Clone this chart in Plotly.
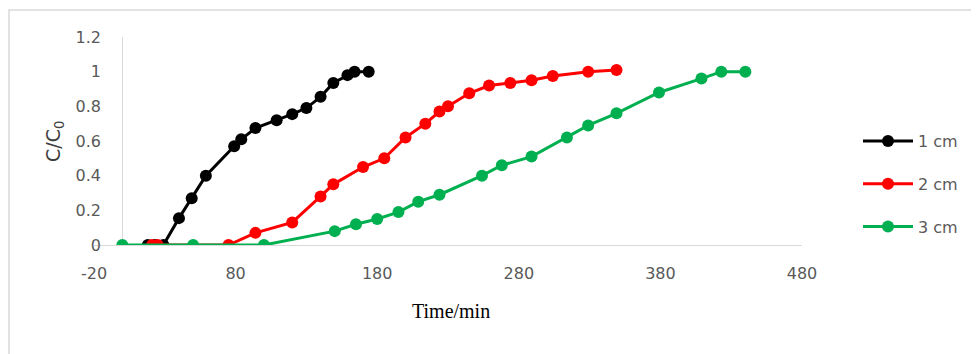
import plotly.graph_objects as go

# ---- data ----
t_1cm = [18, 23, 29, 40, 49, 59, 79, 84, 94, 109, 120, 130, 140, 149, 159, 164, 174]
c_1cm = [0, 0, 0, 0.155, 0.27, 0.40, 0.57, 0.61, 0.675, 0.72, 0.755, 0.79, 0.855, 0.935, 0.98, 1.0, 1.0]

t_2cm = [21, 25, 75, 94, 120, 140, 149, 170, 185, 200, 214, 224, 230, 245, 259, 274, 289, 304, 329, 349]
c_2cm = [0, 0, 0, 0.07, 0.13, 0.28, 0.35, 0.45, 0.50, 0.62, 0.70, 0.77, 0.80, 0.875, 0.92, 0.935, 0.95, 0.975, 1.0, 1.01]

t_3cm = [0, 50, 100, 150, 165, 180, 195, 209, 224, 254, 268, 289, 314, 329, 349, 379, 409, 423, 440]
c_3cm = [0, 0, 0, 0.08, 0.12, 0.15, 0.19, 0.25, 0.29, 0.40, 0.46, 0.51, 0.62, 0.69, 0.76, 0.88, 0.96, 1.0, 1.0]

series_names = ["1 cm", "2 cm", "3 cm"]
series_colors = ["#000000", "#FF0000", "#00B050"]

x_ticks = [-20, 80, 180, 280, 380, 480]
y_ticks = [0, 0.2, 0.4, 0.6, 0.8, 1.0, 1.2]
y_tick_labels = ["0", "0.2", "0.4", "0.6", "0.8", "1", "1.2"]

fig = go.Figure()
for name, xs, ys, col in zip(series_names, [t_1cm, t_2cm, t_3cm], [c_1cm, c_2cm, c_3cm], series_colors):
    fig.add_trace(go.Scatter(
        x=xs, y=ys, name=name, mode="lines+markers",
        line=dict(color=col, width=3),
        marker=dict(color=col, size=12),
        legendgroup=name,
    ))

# page offset (body margin) and plot area pixel geometry, in page coordinates
OFF = 8
W, H = 979 - OFF, 354 - OFF
L, R, T, B = 94 - OFF, 802 - OFF, 37 - OFF, 245 - OFF
pw, ph = R - L, B - T


def px(xp):
    return (xp - OFF - L) / pw


def py(yp):
    return (B - (yp - OFF)) / ph


tick_font = dict(family="DejaVu Sans", size=16, color="#595959")

fig.update_layout(
    width=W, height=H,
    margin=dict(l=L, r=W - R, t=T, b=H - B, pad=0),
    paper_bgcolor="white", plot_bgcolor="white",
    showlegend=True,
    legend=dict(
        x=px(858), y=py(124), xanchor="left", yanchor="top",
        font=dict(family="DejaVu Sans", size=16, color="#595959"),
        itemwidth=50, tracegroupgap=19,
        bgcolor="rgba(0,0,0,0)",
    ),
    xaxis=dict(
        range=[-20, 480], tickvals=x_ticks, ticktext=[str(v) for v in x_ticks],
        showgrid=False, showline=True, linecolor="#d9d9d9", linewidth=1,
        zeroline=True, zerolinecolor="#d9d9d9", zerolinewidth=1,
        ticks="", tickfont=tick_font, ticklabelstandoff=14,
    ),
    yaxis=dict(
        range=[0, 1.2], tickvals=y_ticks, ticktext=y_tick_labels,
        showgrid=False, showline=False, zeroline=False,
        ticks="", tickfont=tick_font, ticklabelstandoff=-8,
    ),
    shapes=[dict(
        type="rect", xref="paper", yref="paper",
        x0=px(9), x1=px(1000),
        y0=py(380), y1=py(10),
        line=dict(color="#d9d9d9", width=1.5), fillcolor="rgba(0,0,0,0)", layer="below",
    )],
    annotations=[
        dict(text="Time/min", xref="paper", yref="paper",
             x=px(451), y=py(311), showarrow=False,
             xanchor="center", yanchor="middle",
             font=dict(family="Liberation Serif", size=20, color="#000000")),
        dict(text="C/C<sub>0</sub>", xref="paper", yref="paper",
             x=px(54), y=py(142), showarrow=False, textangle=-90,
             xanchor="center", yanchor="middle",
             font=dict(family="DejaVu Sans", size=19, color="#404040")),
    ],
)

fig.write_html("out.html")
